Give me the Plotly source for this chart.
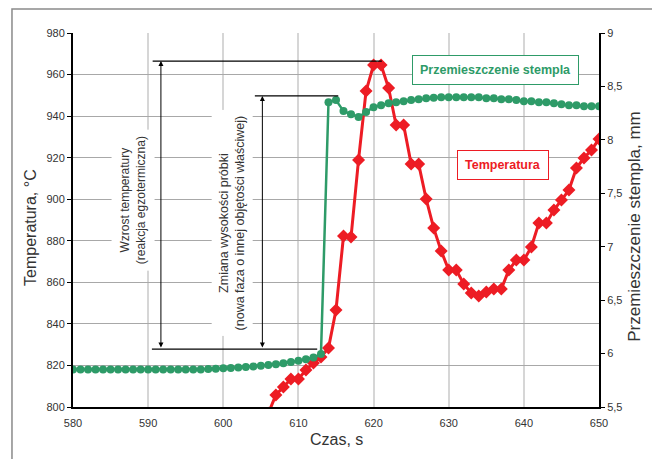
import plotly.graph_objects as go

# ---- data ----
temp_time = list(range(606, 651))
temp_values = [797.0, 805.8, 809.6, 813.5, 813.5, 817.8, 821.2, 824.1, 828.4, 846.7,
               882.3, 881.8, 918.9, 952.1, 964.6, 964.6, 953.5, 935.7, 935.7, 916.9,
               916.9, 900.1, 886.1, 875.1, 865.9, 865.9, 859.2, 854.9, 853.4, 855.3,
               856.8, 856.8, 865.9, 870.7, 870.7, 877.0, 888.5, 888.5, 894.8, 899.6,
               904.4, 915.0, 919.8, 923.7, 929.0]

disp_time = list(range(580, 651))
disp_values = [5.85] * 17 + [
    5.852, 5.855, 5.858, 5.862, 5.866, 5.870, 5.875, 5.880, 5.886, 5.893,
    5.901, 5.910, 5.920, 5.932, 5.946, 5.963, 5.995,
    8.353, 8.372, 8.269, 8.240, 8.213, 8.260, 8.306, 8.325, 8.343, 8.353,
    8.362, 8.372, 8.381, 8.390, 8.395, 8.399, 8.399, 8.399, 8.399, 8.399,
    8.399, 8.390, 8.390, 8.381, 8.381, 8.372, 8.362, 8.362, 8.353, 8.353,
    8.343, 8.334, 8.325, 8.325, 8.315, 8.315, 8.315]

x_ticks = [580, 590, 600, 610, 620, 630, 640, 650]
y_ticks = [800, 820, 840, 860, 880, 900, 920, 940, 960, 980]
y2_ticks = [5.5, 6, 6.5, 7, 7.5, 8, 8.5, 9]
y2_labels = ["5,5", "6", "6,5", "7", "7,5", "8", "8,5", "9"]

GREEN = "rgb(46,155,104)"
RED = "rgb(237,28,36)"
FONT = "Arial, Liberation Sans, sans-serif"
TXT = "#333333"

fig = go.Figure()
fig.add_trace(go.Scatter(
    x=disp_time, y=disp_values, yaxis="y2", mode="lines+markers",
    line=dict(color=GREEN, width=2.5),
    marker=dict(symbol="circle", size=8, color=GREEN),
    name="Przemieszczenie stempla", showlegend=False))
fig.add_trace(go.Scatter(
    x=temp_time, y=temp_values, mode="lines+markers",
    line=dict(color=RED, width=3),
    marker=dict(symbol="diamond", size=10, color=RED),
    name="Temperatura", showlegend=False))

# annotation lines (bracket markers)
hlines = [(590.6, 621.1, 966.5), (604.2, 615.3, 949.7), (590.5, 612.5, 827.9)]
for x0, x1, yv in hlines:
    fig.add_shape(type="line", xref="x", yref="y", x0=x0, x1=x1, y0=yv, y1=yv,
                  line=dict(color="black", width=1.3))

arrows = [(591.7, 966.5, 827.9), (605.2, 949.7, 827.9)]
annotations = []
for xa, ytop, ybot in arrows:
    annotations.append(dict(x=xa, y=ytop, ax=xa, ay=ybot, xref="x", yref="y",
                            axref="x", ayref="y", text="", showarrow=True,
                            arrowhead=2, arrowside="end+start", arrowsize=1,
                            arrowwidth=1, arrowcolor="black"))

annotations += [
    dict(x=588.0, y=899.6, xref="x", yref="y", textangle=-90, showarrow=False,
         text="Wzrost temperatury<br>(reakcja egzotermiczna)",
         font=dict(family=FONT, size=12, color=TXT), bgcolor="white", borderpad=6),
    dict(x=601.2, y=888.5, xref="x", yref="y", textangle=-90, showarrow=False,
         text="Zmiana wysokości próbki<br>(nowa faza o innej objętości właściwej)",
         font=dict(family=FONT, size=12.5, color=TXT), bgcolor="white", borderpad=5),
    dict(x=636.2, y=962.2, xref="x", yref="y", showarrow=False,
         text="<b>Przemieszczenie stempla</b>",
         font=dict(family=FONT, size=12.5, color=GREEN), bgcolor="white",
         bordercolor=GREEN, borderwidth=1, borderpad=7),
    dict(x=637.2, y=916.5, xref="x", yref="y", showarrow=False,
         text="<b>Temperatura</b>",
         font=dict(family=FONT, size=12.5, color=RED), bgcolor="white",
         bordercolor=RED, borderwidth=1, borderpad=7),
    # axis titles
    dict(x=-0.082, y=0.481, xref="paper", yref="paper", textangle=-90, showarrow=False,
         xanchor="center", yanchor="middle",
         text="Temperatura, °C", font=dict(family=FONT, size=16, color=TXT)),
    dict(x=1.068, y=0.484, xref="paper", yref="paper", textangle=-90, showarrow=False,
         xanchor="center", yanchor="middle",
         text="Przemieszczenie stempla, mm", font=dict(family=FONT, size=17, color=TXT)),
    dict(x=0.5, y=-0.088, xref="paper", yref="paper", showarrow=False,
         xanchor="center", yanchor="middle",
         text="Czas, s", font=dict(family=FONT, size=16, color=TXT)),
]

# outer frame
fig.add_shape(type="rect", xref="paper", yref="paper", x0=-0.116, x1=1.1027,
              y0=-0.16, y1=1.064, line=dict(color="#8a8a8a", width=1.5),
              fillcolor="rgba(0,0,0,0)", layer="below")

fig.update_layout(
    width=652, height=451,
    margin=dict(l=65, r=61, t=25, b=52),
    paper_bgcolor="white", plot_bgcolor="white",
    font=dict(family=FONT, size=11, color=TXT),
    annotations=annotations,
    xaxis=dict(range=[580, 650], tickvals=x_ticks, showgrid=True,
               gridcolor="#d6d6d6", gridwidth=1.5, showline=True,
               linecolor="black", linewidth=2, ticks="", zeroline=False,
               ticklabelstandoff=5, tickfont=dict(size=11, color=TXT)),
    yaxis=dict(range=[800, 980], tickvals=y_ticks, showgrid=True,
               gridcolor="#a8a8a8", gridwidth=1, showline=True,
               linecolor="black", linewidth=2, ticks="outside", ticklen=4,
               tickcolor="black", zeroline=False, tickfont=dict(size=11, color=TXT)),
    yaxis2=dict(range=[5.5, 9], tickvals=y2_ticks, ticktext=y2_labels,
                overlaying="y", side="right", showgrid=False, showline=True,
                linecolor="black", linewidth=2, ticks="outside", ticklen=4,
                tickcolor="black", zeroline=False, tickfont=dict(size=11, color=TXT)),
)

fig.write_html("out.html")
